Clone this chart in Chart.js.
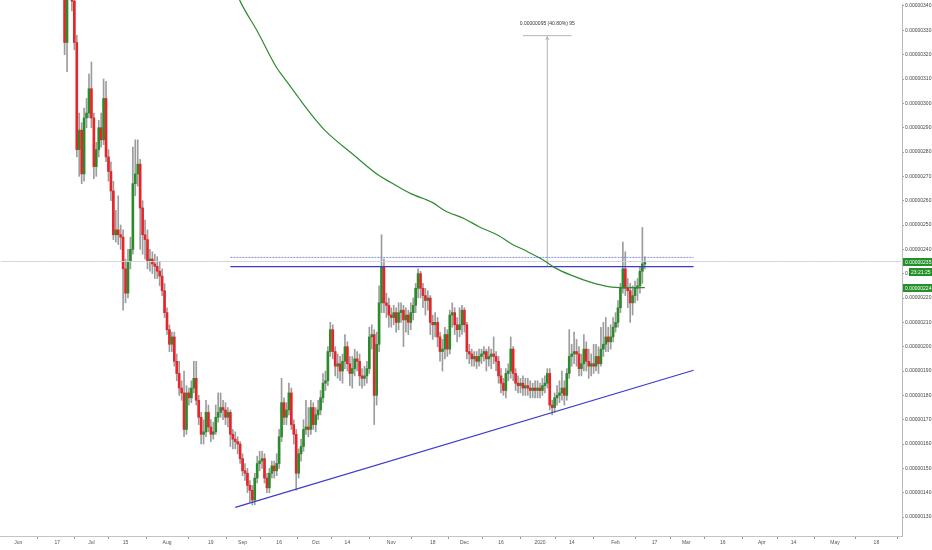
<!DOCTYPE html>
<html>
<head>
<meta charset="utf-8">
<script src="https://cdn.jsdelivr.net/npm/chart.js@4.4.1/dist/chart.umd.min.js"></script>
<style>
  html, body { margin: 0; padding: 0; background: #fff; }
  #chart { display: block; }
</style>
</head>
<body>
<canvas id="chart" width="932" height="550"></canvas>
<script>
// 価格は 1e-8 単位 (235 -> 0.00000235)
const firstDay = '2019-05-25';
const lastDay = '2020-05-28';
const candleStart = '2019-06-20';
const firstOpen = 345;

// 日足の終値 (始値は前日の終値)
const closes = [
  // Jun 20-30
  325, 350, 352, 342, 325, 281, 289, 271, 294, 296, 306,
  // Jul
  294, 274, 281, 290, 285, 302, 278, 272, 264, 246, 248, 246, 245, 232, 222, 235,
  240, 267, 271, 275, 257, 246, 244, 235, 236, 234, 233, 231, 229, 223, 214,
  // Aug
  207, 201, 204, 194, 189, 183, 181, 166, 181, 179, 183, 187, 178, 171, 164, 165,
  173, 167, 164, 165, 171, 173, 175, 174, 171, 173, 164, 162, 161, 160, 154,
  // Sep
  149, 148, 143, 141, 137, 146, 152, 153, 154, 146, 142, 148, 151, 149, 152,
  163, 177, 171, 174, 181, 168, 164, 148, 156, 159, 166, 167, 166, 175, 168,
  // Oct
  172, 174, 179, 185, 186, 198, 207, 198, 192, 193, 190, 194, 200, 193, 189, 191,
  195, 194, 188, 187, 188, 191, 204, 205, 180, 201, 218, 233, 218, 217, 213,
  // Nov
  212, 214, 210, 214, 215, 211, 213, 210, 214, 217, 224, 230, 224, 221, 219,
  220, 210, 209, 210, 204, 198, 199, 205, 199, 213, 214, 209, 207, 209, 215,
  // Dec
  209, 198, 197, 195, 196, 194, 196, 197, 198, 195, 196, 197, 196, 194, 188, 185,
  182, 189, 190, 199, 189, 185, 184, 185, 183, 184, 183, 182, 183, 182, 183,
  // Jan
  182, 184, 185, 189, 176, 175, 179, 180, 181, 183, 180, 189, 196, 197, 198, 197,
  191, 193, 199, 194, 192, 193, 192, 196, 193, 199, 201, 204, 202, 204, 208,
  // Feb 1-13
  210, 216, 224, 232, 224, 223, 218, 221, 224, 225, 231, 234, 235
];
const highs = [
  360, 356, 358, 354, 344, 328, 296, 292, 298, 302, 312,
  317, 296, 284, 293, 296, 310, 309, 281, 276, 268, 256, 262, 250, 248, 236, 240,
  245, 282, 285, 285, 277, 260, 252, 248, 240, 239, 238, 237, 235, 232, 226,
  216, 209, 206, 206, 197, 194, 186, 190, 184, 183, 186, 194, 194, 180, 173, 170,
  178, 176, 170, 169, 176, 181, 181, 178, 177, 175, 174, 166, 165, 163, 161,
  156, 152, 150, 145, 143, 148, 155, 157, 157, 156, 148, 150, 153, 153, 156,
  166, 187, 179, 177, 185, 183, 170, 166, 158, 162, 170, 178, 175, 178, 177,
  175, 178, 182, 189, 190, 200, 210, 209, 200, 197, 196, 197, 205, 202, 196, 196,
  199, 198, 197, 191, 192, 194, 208, 209, 207, 206, 225, 246, 236, 222, 220,
  216, 217, 216, 218, 218, 217, 216, 215, 218, 220, 226, 232, 231, 226, 224,
  223, 221, 213, 214, 212, 206, 203, 208, 207, 215, 218, 216, 212, 216, 217,
  216, 210, 201, 199, 198, 198, 199, 199, 200, 199, 200, 199, 204, 198, 196, 191,
  187, 191, 193, 204, 200, 191, 188, 187, 188, 187, 187, 186, 185, 186, 186,
  185, 187, 188, 191, 191, 178, 181, 184, 186, 190, 186, 191, 207, 201, 206, 203,
  200, 197, 205, 202, 199, 197, 201, 201, 200, 208, 210, 212, 208, 209, 212,
  214, 219, 226, 243, 239, 228, 226, 225, 227, 228, 233, 249, 237
];
const lows = [
  320, 313, 346, 338, 322, 278, 270, 267, 268, 290, 294,
  290, 269, 270, 278, 282, 283, 276, 268, 260, 244, 243, 242, 240, 215, 218, 220,
  232, 238, 262, 266, 240, 238, 236, 232, 231, 230, 228, 228, 225, 221, 212,
  205, 198, 198, 192, 186, 180, 178, 163, 164, 176, 177, 181, 176, 168, 160, 160,
  163, 165, 161, 162, 164, 169, 171, 170, 168, 167, 159, 158, 158, 156, 152,
  147, 145, 140, 136, 135, 135, 144, 149, 150, 144, 140, 140, 146, 146, 147,
  150, 161, 168, 168, 172, 166, 160, 141, 146, 153, 157, 164, 163, 164, 166,
  165, 170, 172, 177, 182, 184, 196, 195, 188, 187, 186, 185, 191, 190, 184, 183,
  188, 190, 184, 183, 184, 185, 189, 199, 168, 176, 198, 214, 214, 212, 208,
  208, 209, 206, 207, 210, 200, 206, 205, 207, 211, 214, 220, 220, 216, 213,
  215, 205, 203, 204, 200, 194, 190, 195, 196, 197, 208, 205, 202, 204, 205,
  206, 195, 193, 192, 192, 191, 192, 193, 194, 190, 192, 191, 193, 190, 185, 181,
  180, 179, 186, 187, 186, 182, 181, 181, 180, 180, 180, 179, 179, 179, 179,
  179, 180, 181, 183, 174, 172, 173, 176, 177, 178, 176, 178, 187, 192, 193, 192,
  188, 188, 190, 190, 187, 188, 189, 190, 189, 192, 196, 198, 198, 199, 202,
  206, 208, 214, 222, 221, 216, 210, 213, 218, 219, 222, 226, 232
];

// 移動平均線
const maDays = ['2019-08-29', '2019-08-31', '2019-09-07', '2019-09-15', '2019-09-18',
  '2019-09-24', '2019-09-29', '2019-10-05', '2019-10-16', '2019-10-27',
  '2019-11-01', '2019-11-09', '2019-11-18', '2019-11-23', '2019-12-01', '2019-12-07',
  '2019-12-15', '2019-12-20', '2019-12-26', '2020-01-02', '2020-01-07', '2020-01-14',
  '2020-01-22', '2020-01-29', '2020-02-05', '2020-02-13'];
const maValues = [347, 342, 329.7, 314.6, 310.5, 302.3, 295.7, 288.7, 279.3, 270.3,
  267.4, 262.9, 259.2, 255.9, 252.6, 249.3, 245.7, 242.4, 239.5, 235.8, 232.5, 229.3,
  226.4, 224.7, 224.3, 224.3];

// 描画したライン
const trendDays = ['2019-08-29', '2020-03-04'];
const trendValues = [134.0, 190.3];
const levelDays = ['2019-08-27', '2020-03-04'];
const resistance = 232.9;
const resistanceUpper = 236.7;
const lastPrice = 235;
const maLast = 224;
const countdown = '23:21:25';

// 値幅測定ツール
const measureDays = ['2019-12-25', '2020-01-04', '2020-01-14'];
const measureLow = 232.9;
const measureHigh = 327.8;
const measureText = '0.00000095 (40.80%) 95';

// 横軸の目盛り
const tickDates = ['2019-06-01', '2019-06-17', '2019-07-01', '2019-07-15', '2019-08-01',
  '2019-08-19', '2019-09-01', '2019-09-16', '2019-10-01', '2019-10-14', '2019-11-01',
  '2019-11-18', '2019-12-01', '2019-12-16', '2020-01-01', '2020-01-14', '2020-02-01',
  '2020-02-17', '2020-03-01', '2020-03-16', '2020-04-01', '2020-04-14', '2020-05-01',
  '2020-05-18'];
const tickTexts = ['Jun', '17', 'Jul', '15', 'Aug', '19', 'Sep', '16', 'Oct', '14', 'Nov',
  '18', 'Dec', '16', '2020', '14', 'Feb', '17', 'Mar', '16', 'Apr', '14', 'May', '18'];

// 日付ラベルの作成
const labels = [];
for (let t = Date.parse(firstDay); t <= Date.parse(lastDay); t += 86400000) {
  labels.push(new Date(t).toISOString().slice(0, 10));
}
const startIndex = labels.indexOf(candleStart);

const wickData = labels.map(() => null);
const bodyData = labels.map(() => null);
const bodyColors = labels.map(() => '#2a8b2a');
closes.forEach((c, i) => {
  const open = i === 0 ? firstOpen : closes[i - 1];
  wickData[startIndex + i] = [lows[i], highs[i]];
  bodyData[startIndex + i] = [open, c];
  bodyColors[startIndex + i] = c >= open ? '#2a8b2a' : '#e8242a';
});

const fmt = v => (v / 1e8).toFixed(8);
const font = { family: '"Liberation Sans", Arial, sans-serif', size: 5 };
// 上端の数pxまで描けるようにする
const topClip = { left: 0, top: 4, right: 0, bottom: 0 };

const overlayPlugin = {
  id: 'overlay',
  afterDatasetsDraw(chart) {
    const { ctx, scales: { x, y } } = chart;
    const mx = x.getPixelForValue(labels.indexOf(measureDays[1]));
    const my = y.getPixelForValue(measureHigh);
    ctx.save();
    ctx.strokeStyle = '#a8a8a8';
    ctx.lineWidth = 1;
    ctx.beginPath();
    ctx.moveTo(mx - 1.5, my + 4);
    ctx.lineTo(mx, my + 1.5);
    ctx.lineTo(mx + 1.5, my + 4);
    ctx.stroke();
    ctx.font = '5px "Liberation Sans", Arial, sans-serif';
    ctx.fillStyle = '#333';
    ctx.textAlign = 'center';
    ctx.textBaseline = 'middle';
    ctx.fillText(measureText, mx, my - 12);
    ctx.restore();
  },
  afterDraw(chart) {
    const { ctx, scales: { y } } = chart;
    const tag = (py, text, x0) => {
      ctx.fillStyle = '#25902a';
      ctx.fillRect(x0, Math.round(py) - 4, 932 - x0, 8);
      ctx.fillStyle = '#fff';
      ctx.textAlign = 'left';
      ctx.textBaseline = 'middle';
      ctx.fillText(text, x0 + 2, Math.round(py) + 0.5);
    };
    ctx.save();
    ctx.font = '5px "Liberation Sans", Arial, sans-serif';
    const pLast = y.getPixelForValue(lastPrice);
    tag(pLast, fmt(lastPrice), 903);
    tag(pLast + 10, countdown, 909);
    tag(y.getPixelForValue(maLast), fmt(maLast), 903);
    ctx.restore();
  }
};

const lineStyle = { type: 'line', pointRadius: 0, spanGaps: true, fill: false };

new Chart(document.getElementById('chart'), {
  type: 'bar',
  data: {
    labels: labels,
    datasets: [{
      data: wickData,
      backgroundColor: '#9c9c9c',
      barThickness: 1,
      grouped: false,
      clip: topClip,
      order: 5
    }, {
      data: bodyData,
      backgroundColor: bodyColors,
      barThickness: 2,
      minBarLength: 1,
      grouped: false,
      clip: topClip,
      order: 4
    }, {
      ...lineStyle,
      data: labels.map(d => ({ x: d, y: lastPrice })),
      borderColor: '#cfd3dc',
      borderWidth: 1,
      order: 3
    }, {
      ...lineStyle,
      data: maDays.map((d, i) => ({ x: d, y: maValues[i] })),
      borderColor: '#2e8b2e',
      borderWidth: 1.2,
      cubicInterpolationMode: 'monotone',
      clip: topClip,
      order: 1
    }, {
      ...lineStyle,
      data: trendDays.map((d, i) => ({ x: d, y: trendValues[i] })),
      borderColor: '#3b3bd0',
      borderWidth: 1.2,
      order: 1
    }, {
      ...lineStyle,
      data: levelDays.map(d => ({ x: d, y: resistance })),
      borderColor: '#3b3bd0',
      borderWidth: 1.2,
      order: 1
    }, {
      ...lineStyle,
      data: levelDays.map(d => ({ x: d, y: resistanceUpper })),
      borderColor: '#8a8ae6',
      borderWidth: 1,
      borderDash: [2, 1],
      order: 1
    }, {
      ...lineStyle,
      data: [{ x: measureDays[1], y: measureLow }, { x: measureDays[1], y: measureHigh }],
      borderColor: '#b4b4b4',
      borderWidth: 1,
      order: 2
    }, {
      ...lineStyle,
      data: [{ x: measureDays[0], y: measureHigh }, { x: measureDays[2], y: measureHigh }],
      borderColor: '#b4b4b4',
      borderWidth: 1,
      order: 2
    }]
  },
  options: {
    responsive: false,
    animation: false,
    devicePixelRatio: 1,
    layout: { padding: 0 },
    plugins: {
      legend: { display: false },
      tooltip: { enabled: false }
    },
    scales: {
      x: {
        type: 'category',
        offset: true,
        grid: { drawOnChartArea: false, tickLength: 3, color: '#9a9a9a' },
        border: { color: '#c4c4c4' },
        ticks: {
          autoSkip: false,
          maxRotation: 0,
          padding: 1,
          font: font,
          color: '#555',
          callback: function (value) {
            const k = tickDates.indexOf(this.getLabelForValue(value));
            return k >= 0 ? tickTexts[k] : null;
          }
        },
        afterFit: s => { s.height = 14; }
      },
      y: {
        position: 'right',
        min: 122.21,
        max: 340.82,
        grid: { drawOnChartArea: false, tickLength: 2, color: '#9a9a9a' },
        border: { color: '#b8b8b8' },
        ticks: {
          stepSize: 10,
          includeBounds: false,
          padding: 1,
          font: font,
          color: '#444',
          callback: v => fmt(v)
        },
        afterFit: s => { s.width = 30; }
      }
    }
  },
  plugins: [overlayPlugin]
});
</script>
</body>
</html>
